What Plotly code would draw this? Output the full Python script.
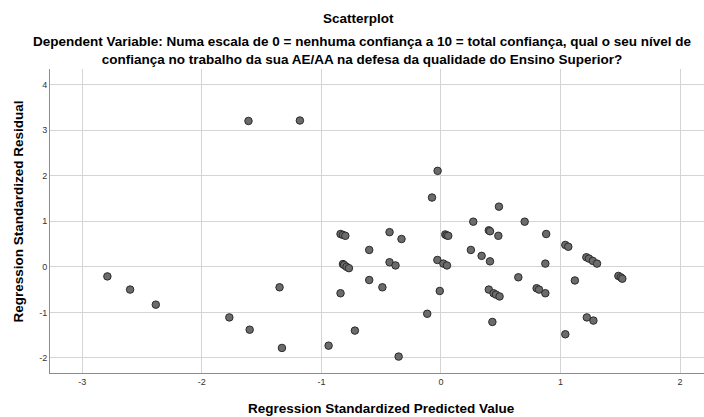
import plotly.graph_objects as go

pred = [-2.79, -2.60, -2.385, -1.77, -1.60, -1.61, -1.18, -0.028, -0.075, 0.27,
        -0.84, -0.82, -0.80, -0.43, -0.33, 0.036, 0.047, 0.061,
        -0.60, 0.25, 0.34, 0.41,
        -0.82, -0.81, -0.79, -0.77, -0.43, -0.38, -0.03, 0.02, 0.05,
        -1.35, -0.60, -0.49, -0.84, -0.01, -0.115, -0.72, -1.33, -0.94, -0.354,
        0.485, 0.70, 0.40, 0.41, 0.48, 0.88,
        1.04, 1.065, 1.216, 1.238, 1.27, 1.305, 0.873, 0.647, 1.12,
        1.484, 1.504, 1.517, 0.40, 0.44, 0.46, 0.49, 0.80, 0.82, 0.873,
        0.43, 1.22, 1.275, 1.04]
resid = [-0.21, -0.50, -0.83, -1.11, -1.38, 3.20, 3.21, 2.105, 1.52, 0.99,
         0.72, 0.70, 0.68, 0.76, 0.61, 0.71, 0.69, 0.68,
         0.37, 0.37, 0.24, 0.12,
         0.06, 0.04, 0.0, -0.03, 0.10, 0.03, 0.15, 0.07, 0.03,
         -0.45, -0.29, -0.45, -0.58, -0.53, -1.03, -1.40, -1.78, -1.73, -1.97,
         1.32, 0.99, 0.80, 0.78, 0.68, 0.72,
         0.48, 0.44, 0.21, 0.18, 0.13, 0.07, 0.07, -0.23, -0.30,
         -0.20, -0.23, -0.26, -0.50, -0.58, -0.61, -0.65, -0.47, -0.50, -0.58,
         -1.21, -1.11, -1.18, -1.48]

x_ticks = [-3, -2, -1, 0, 1, 2]
y_ticks = [-2, -1, 0, 1, 2, 3, 4]

title = "Scatterplot"
subtitle1 = "Dependent Variable: Numa escala de 0 = nenhuma confiança a 10 = total confiança, qual o seu nível de"
subtitle2 = "confiança no trabalho da sua AE/AA na defesa da qualidade do Ensino Superior?"
x_title = "Regression Standardized Predicted Value"
y_title = "Regression Standardized Residual"

FONT = "Liberation Sans, Arial, sans-serif"
L, R, T, B = 50, 0, 69, 44
PW = 704 - L - R


def px_x(px):
    return (px - L) / PW


fig = go.Figure()
fig.add_trace(go.Scatter(
    x=pred, y=resid, mode="markers",
    marker=dict(size=7.5, color="#6b6b6b", line=dict(color="#2b2b2b", width=1)),
    hoverinfo="skip", showlegend=False,
))

fig.update_layout(
    width=704, height=417,
    margin=dict(l=L, r=R, t=T, b=B),
    paper_bgcolor="white", plot_bgcolor="white",
    font=dict(family=FONT, color="black"),
    xaxis=dict(
        range=[-3.27, 2.20], tickvals=x_ticks, ticktext=[str(v) for v in x_ticks],
        showgrid=True, gridcolor="#d4d4d4", gridwidth=1, zeroline=False,
        showline=True, linecolor="#8c8c8c", linewidth=1, ticks="",
        tickfont=dict(size=9, color="#333333"),
    ),
    yaxis=dict(
        range=[-2.33, 4.34], tickvals=y_ticks, ticktext=[str(v) for v in y_ticks],
        showgrid=True, gridcolor="#d4d4d4", gridwidth=1, zeroline=False,
        showline=True, linecolor="#8c8c8c", linewidth=1, ticks="",
        tickfont=dict(size=9, color="#333333"),
    ),
)

tfont = dict(size=13.5, family=FONT, color="black")
fig.add_annotation(text="<b>" + title + "</b>", xref="paper", yref="paper",
                   x=px_x(358.5), xanchor="center", y=1, yshift=T - 18, yanchor="middle",
                   showarrow=False, font=tfont)
fig.add_annotation(text="<b>" + subtitle1 + "</b><br><b>" + subtitle2 + "</b>",
                   xref="paper", yref="paper", borderpad=0,
                   x=px_x(361.5), xanchor="center", y=1, yshift=T - 50, yanchor="middle",
                   showarrow=False, font=tfont)
fig.add_annotation(text="<b>" + x_title + "</b>", xref="paper", yref="paper",
                   x=px_x(381), xanchor="center", y=0, yshift=-(408 - (417 - B)), yanchor="middle",
                   showarrow=False, font=tfont)
fig.add_annotation(text="<b>" + y_title + "</b>", xref="paper", yref="paper",
                   x=0, xshift=17.5 - L, xanchor="center", y=0.5, yshift=221 - 212,
                   yanchor="middle", textangle=-90,
                   showarrow=False, font=tfont)

fig.write_html("out.html")
